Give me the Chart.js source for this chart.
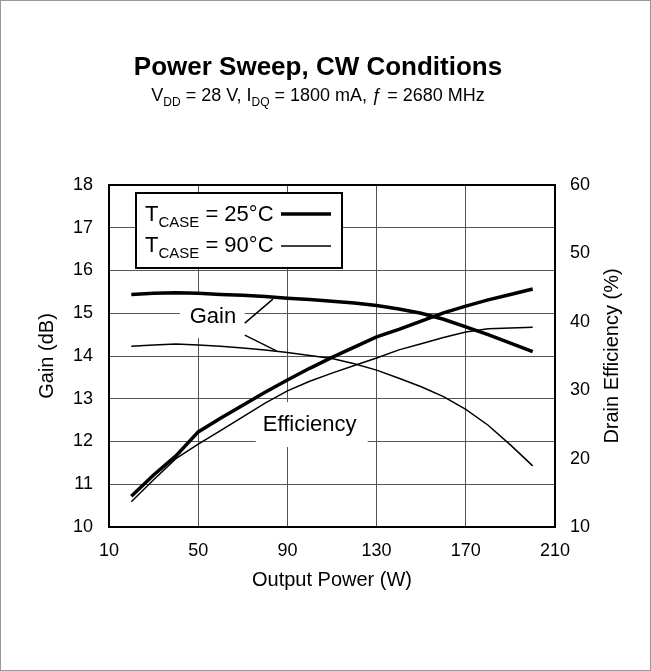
<!DOCTYPE html>
<html>
<head>
<meta charset="utf-8">
<script src="https://cdn.jsdelivr.net/npm/chart.js@4/dist/chart.umd.min.js"></script>
<style>
  html, body { margin: 0; padding: 0; background: #fff; }
  #wrap { width: 651px; height: 671px; }
</style>
</head>
<body>
<div id="wrap"><canvas id="power-sweep" width="651" height="671"></canvas></div>
<script>
// output power (W) at each measured point
const outputPower = [20, 30, 40, 50, 60, 70, 80, 90, 100, 110, 120, 130, 140, 150, 160, 170, 180, 190, 200];
// gain (dB)
const gain25 = [15.44, 15.47, 15.48, 15.47, 15.44, 15.42, 15.39, 15.35, 15.32, 15.28, 15.24, 15.18, 15.10, 15.00, 14.86, 14.68, 14.50, 14.30, 14.10];
const gain90 = [14.23, 14.26, 14.28, 14.26, 14.23, 14.19, 14.14, 14.08, 14.01, 13.94, 13.82, 13.67, 13.48, 13.28, 13.05, 12.75, 12.38, 11.92, 11.43];
// drain efficiency (%)
const eff25 = [14.5, 17.6, 20.4, 23.9, 25.9, 27.8, 29.7, 31.5, 33.2, 34.8, 36.3, 37.8, 38.9, 40.1, 41.3, 42.3, 43.2, 44.0, 44.8];
const eff90 = [13.7, 16.9, 20.0, 22.1, 24.1, 26.1, 28.1, 29.9, 31.3, 32.5, 33.6, 34.7, 35.9, 36.8, 37.7, 38.5, 39.0, 39.1, 39.2];

const powerTicks = [10, 50, 90, 130, 170, 210];
const gainTicks = [10, 11, 12, 13, 14, 15, 16, 17, 18];
const effTicks = [10, 20, 30, 40, 50, 60];

const FONT = '"Liberation Sans", Arial, sans-serif';
Chart.defaults.font.family = FONT;
Chart.defaults.color = '#000';

// draws a line of text made of runs, some of them subscript
function drawRuns(ctx, items, x, y, size, align) {
  const subSize = Math.round(size * 0.68);
  const fontOf = it => `${it.bold ? 'bold ' : ''}${it.sub ? subSize : size}px ${FONT}`;
  let total = 0;
  items.forEach(it => { ctx.font = fontOf(it); total += ctx.measureText(it.t).width; });
  let cx = align === 'center' ? x - total / 2 : x;
  ctx.textAlign = 'left';
  ctx.textBaseline = 'alphabetic';
  items.forEach(it => {
    ctx.font = fontOf(it);
    ctx.fillText(it.t, cx, it.sub ? y + size * 0.28 : y);
    cx += ctx.measureText(it.t).width;
  });
}

// label boxes, in data units (x: W, y: dB)
const gainBox = { x0: 41.8, x1: 70.9, y0: 15.5, y1: 14.42, cx: 56.6, cy: 14.92 };
const effBox = { x0: 75.8, x1: 126, y0: 12.92, y1: 11.87, cx: 100, cy: 12.39 };
const gainLeaders = [[70.9, 14.77, 83.5, 15.33], [70.9, 14.49, 85.1, 14.12]];

const decorations = {
  id: 'decorations',
  beforeDatasetsDraw(chart) {
    const { ctx, scales: { x, y } } = chart;
    ctx.save();
    ctx.fillStyle = '#fff';
    [gainBox, effBox].forEach(b => {
      const px0 = x.getPixelForValue(b.x0), px1 = x.getPixelForValue(b.x1);
      const py0 = y.getPixelForValue(b.y0), py1 = y.getPixelForValue(b.y1);
      ctx.fillRect(px0, py0, px1 - px0, py1 - py0);
    });
    ctx.restore();
  },
  afterDatasetsDraw(chart) {
    const { ctx, chartArea: a, scales: { x, y } } = chart;
    ctx.save();
    ctx.fillStyle = '#000';
    ctx.strokeStyle = '#000';

    // in-plot labels
    ctx.font = `22px ${FONT}`;
    ctx.textAlign = 'center';
    ctx.textBaseline = 'middle';
    ctx.fillText('Gain', x.getPixelForValue(gainBox.cx), y.getPixelForValue(gainBox.cy));
    ctx.fillText('Efficiency', x.getPixelForValue(effBox.cx), y.getPixelForValue(effBox.cy));
    ctx.lineWidth = 1.5;
    gainLeaders.forEach(l => {
      ctx.beginPath();
      ctx.moveTo(x.getPixelForValue(l[0]), y.getPixelForValue(l[1]));
      ctx.lineTo(x.getPixelForValue(l[2]), y.getPixelForValue(l[3]));
      ctx.stroke();
    });

    // legend
    ctx.fillStyle = '#fff';
    ctx.fillRect(136, 193, 206, 75);
    ctx.lineWidth = 2;
    ctx.strokeRect(136, 193, 206, 75);
    ctx.fillStyle = '#000';
    drawRuns(ctx, [{ t: 'T' }, { t: 'CASE', sub: true }, { t: ' = 25°C' }], 145, 221, 22, 'left');
    drawRuns(ctx, [{ t: 'T' }, { t: 'CASE', sub: true }, { t: ' = 90°C' }], 145, 252, 22, 'left');
    ctx.lineWidth = 3.5;
    ctx.beginPath(); ctx.moveTo(281, 214); ctx.lineTo(331, 214); ctx.stroke();
    ctx.lineWidth = 1.5;
    ctx.beginPath(); ctx.moveTo(281, 246); ctx.lineTo(331, 246); ctx.stroke();

    // plot frame
    ctx.lineWidth = 2;
    ctx.strokeRect(a.left, a.top, a.right - a.left, a.bottom - a.top);
    ctx.restore();
  },
  afterDraw(chart) {
    const { ctx } = chart;
    ctx.save();
    ctx.fillStyle = '#000';
    drawRuns(ctx, [{ t: 'Power Sweep, CW Conditions', bold: true }], 318, 75, 26, 'center');
    drawRuns(ctx, [
      { t: 'V' }, { t: 'DD', sub: true }, { t: ' = 28 V, I' }, { t: 'DQ', sub: true },
      { t: ' = 1800 mA, ƒ = 2680 MHz' }
    ], 318, 101, 18, 'center');

    // right axis title reads bottom to top
    ctx.translate(612, 356);
    ctx.rotate(-Math.PI / 2);
    ctx.font = `20px ${FONT}`;
    ctx.textAlign = 'center';
    ctx.textBaseline = 'middle';
    ctx.fillText('Drain Efficiency (%)', 0, 0);
    ctx.restore();

    ctx.save();
    ctx.strokeStyle = '#999';
    ctx.lineWidth = 1;
    ctx.strokeRect(0.5, 0.5, chart.width - 1, chart.height - 1);
    ctx.restore();
  }
};

const series = (ys) => outputPower.map((p, i) => ({ x: p, y: ys[i] }));
const lineStyle = { borderColor: '#000', backgroundColor: '#000', pointRadius: 0, tension: 0, fill: false };

new Chart(document.getElementById('power-sweep'), {
  type: 'line',
  data: {
    datasets: [
      { ...lineStyle, label: 'Gain 25°C', data: series(gain25), yAxisID: 'y', borderWidth: 3.5 },
      { ...lineStyle, label: 'Gain 90°C', data: series(gain90), yAxisID: 'y', borderWidth: 1.5 },
      { ...lineStyle, label: 'Efficiency 25°C', data: series(eff25), yAxisID: 'y1', borderWidth: 3.5 },
      { ...lineStyle, label: 'Efficiency 90°C', data: series(eff90), yAxisID: 'y1', borderWidth: 1.5 }
    ]
  },
  options: {
    responsive: false,
    animation: false,
    layout: { padding: { top: 185, left: 0, right: 0, bottom: 0 } },
    plugins: {
      legend: { display: false },
      tooltip: { enabled: false },
      colors: { enabled: false }
    },
    scales: {
      x: {
        type: 'linear',
        min: 10,
        max: 210,
        afterBuildTicks: s => { s.ticks = powerTicks.map(v => ({ value: v })); },
        afterFit: s => { s.height = 144; },
        grid: { color: '#555', lineWidth: 1, drawTicks: false },
        border: { color: '#000', width: 2 },
        ticks: { font: { size: 18 }, padding: 13 },
        title: { display: true, text: 'Output Power (W)', font: { size: 20 }, padding: { bottom: 79 } }
      },
      y: {
        position: 'left',
        min: 10,
        max: 18,
        afterBuildTicks: s => { s.ticks = gainTicks.map(v => ({ value: v })); },
        afterFit: s => { s.width = 109; },
        grid: { color: '#555', lineWidth: 1, drawTicks: false },
        border: { color: '#000', width: 2 },
        ticks: { font: { size: 18 }, padding: 16 },
        title: { display: true, text: 'Gain (dB)', font: { size: 20 }, padding: { top: 35 } }
      },
      y1: {
        position: 'right',
        min: 10,
        max: 60,
        afterBuildTicks: s => { s.ticks = effTicks.map(v => ({ value: v })); },
        afterFit: s => { s.width = 96; },
        grid: { display: false, drawTicks: false },
        border: { color: '#000', width: 2 },
        ticks: { font: { size: 18 }, padding: 15 }
      }
    }
  },
  plugins: [decorations]
});
</script>
</body>
</html>
